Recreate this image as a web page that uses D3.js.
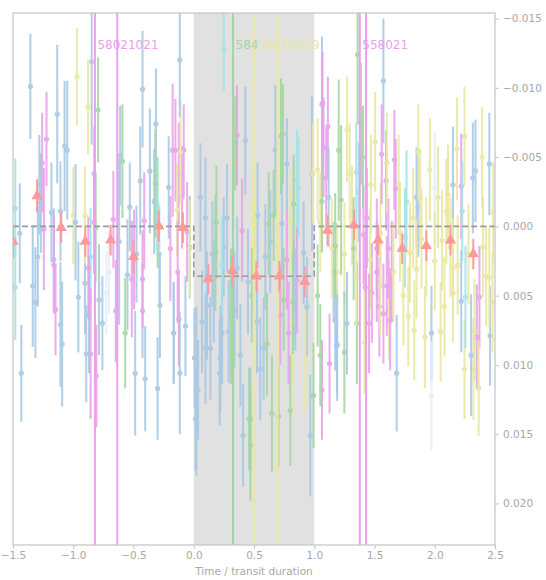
<!DOCTYPE html>
<html><head><meta charset="utf-8">
<script src="https://cdn.jsdelivr.net/npm/d3@7"></script>
<style>body{margin:0;background:#fff;}svg{display:block;font-family:"DejaVu Sans",sans-serif;}</style>
</head><body><div id="chart"></div>
<script>
// ---------------- DATA ----------------
const xTicks = [-1.5,-1.0,-0.5,0.0,0.5,1.0,1.5,2.0,2.5];
const xTickLabels = ["\u22121.5","\u22121.0","\u22120.5","0.0","0.5","1.0","1.5","2.0","2.5"];
const yTicks = [-0.015,-0.010,-0.005,0.000,0.005,0.010,0.015,0.020];
const yTickLabels = ["\u22120.015","\u22120.010","\u22120.005","0.000","0.005","0.010","0.015","0.020"];
const xLabel = "Time / transit duration";

// each point: [time, flux deviation, error]
const blue = [
[-1.356,-0.0101,0.0038],[-1.431,0.0106,0.0035],[-1.444,0.0005,0.0036],[-1.336,0.0043,0.0044],
[-1.314,0.0055,0.0040],[-1.294,0.0022,0.0036],[-1.281,-0.0030,0.0036],[-1.269,-0.0017,0.0036],
[-1.181,-0.0010,0.0036],[-1.161,0.0024,0.0037],[-1.133,-0.0081,0.0050],[-1.106,0.0071,0.0045],
[-1.092,0.0085,0.0045],[-1.106,-0.0011,0.0036],[-1.072,-0.0058,0.0047],[-1.050,-0.0055,0.0050],
[-0.981,-0.0003,0.0042],[-0.958,0.0051,0.0040],[-0.892,0.0092,0.0035],[-0.847,-0.0119,0.0060],
[-0.903,0.0041,0.0037],[-0.869,0.0064,0.0042],[-0.786,0.0053,0.0040],[-0.758,0.0070,0.0034],
[-0.619,0.0011,0.0060],[-0.611,-0.0051,0.0036],[-0.550,0.0035,0.0040],[-0.531,-0.0014,0.0032],
[-0.486,0.0106,0.0045],[-0.475,0.0020,0.0035],[-0.444,-0.0033,0.0039],[-0.425,-0.0099,0.0042],
[-0.425,0.0061,0.0034],[-0.403,0.0110,0.0038],[-0.364,-0.0040,0.0045],[-0.328,-0.0018,0.0038],
[-0.314,-0.0074,0.0040],[-0.300,0.0117,0.0037],[-0.281,0.0057,0.0038],[-0.208,-0.0028,0.0037],
[-0.167,0.0077,0.0037],[-0.116,-0.0120,0.0041],[-0.116,0.0106,0.0044],[-0.069,0.0072,0.0036],
[-0.166,0.0077,0.0036],[-0.033,0.0015,0.0037],
[0.055,-0.0021,0.0039],[0.097,-0.0006,0.0044],[0.006,0.0095,0.0036],[0.022,0.0119,0.0061],
[0.036,0.0118,0.0036],[0.014,0.0139,0.0037],[0.097,0.0088,0.0040],[0.110,0.0057,0.0039],
[0.221,0.0095,0.0038],[0.235,0.0077,0.0037],[0.215,0.0106,0.0038],[0.249,0.0015,0.0036],
[0.276,-0.0006,0.0039],[0.337,0.0060,0.0042],[0.290,0.0076,0.0037],[0.428,-0.0062,0.0039],
[0.530,-0.0008,0.0038],[0.409,0.0151,0.0037],[0.470,0.0139,0.0037],[0.552,0.0103,0.0037],
[0.594,0.0022,0.0038],[0.635,0.0011,0.0037],[0.677,-0.0055,0.0047],[0.732,-0.0002,0.0037],
[0.773,-0.0045,0.0033],[0.829,0.0046,0.0037],[0.843,0.0053,0.0037],[0.939,0.0058,0.0036],
[0.967,0.0151,0.0044],[0.981,-0.0038,0.0056],[0.912,0.0019,0.0037],[0.138,0.0088,0.0037],
[0.069,0.0069,0.0037],[0.166,0.0047,0.0037],[0.387,0.0093,0.0037],[0.525,0.0069,0.0037],
[0.580,0.0088,0.0037],[0.155,0.0020,0.0038],[0.360,0.0030,0.0037],[0.450,0.0040,0.0038],
[1.064,-0.0088,0.0049],[1.119,-0.0021,0.0036],[1.160,0.0033,0.0036],[1.174,0.0068,0.0036],
[1.188,0.0085,0.0036],[1.190,0.0086,0.0040],[1.272,0.0070,0.0037],
[1.574,-0.0105,0.0045],[1.684,0.0106,0.0042],[1.973,0.0077,0.0034],[1.863,-0.0014,0.0036],
[2.151,-0.0030,0.0042],[2.220,0.0054,0.0037],[2.302,0.0093,0.0044],[2.316,-0.0035,0.0040],
[2.338,-0.0040,0.0037],[2.453,-0.0045,0.0037],[2.459,0.0079,0.0036],[1.849,-0.0021,0.0036]
];
const faint = [
[-0.725,0.0048,0.0030],[-0.703,0.0033,0.0030],[1.973,0.0122,0.0039],[2.000,-0.0028,0.0040]
];
const cyan = [
[-1.481,-0.0013,0.0036],[-1.481,0.0044,0.0038],[-0.828,-0.0038,0.0034],[-0.306,-0.0016,0.0034],
[-0.286,0.0020,0.0035],[-0.856,0.0022,0.0035],[0.249,-0.0128,0.0030],[0.235,0.0028,0.0036],
[0.856,-0.0033,0.0037],[0.870,-0.0028,0.0036],[1.349,-0.0039,0.0036],[1.368,-0.0025,0.0036],
[1.766,-0.0018,0.0037],[1.753,0.0008,0.0036],[2.228,-0.0011,0.0036],[2.255,0.0051,0.0037]
];
const pink = [
[-1.244,0.0002,0.0044],[-1.258,-0.0046,0.0036],[-1.222,-0.0063,0.0034],[-1.147,0.0060,0.0033],
[-1.161,0.0028,0.0035],[-0.856,0.0092,0.0047],[-0.808,0.0108,0.0037],[-0.875,0.0030,0.0037],
[-0.828,-0.0003,0.0037],[-0.647,0.0061,0.0037],[-0.667,-0.0005,0.0035],[-0.514,0.0038,0.0042],
[-0.495,0.0024,0.0036],[-0.411,-0.0004,0.0035],[-0.425,0.0038,0.0035],[-0.175,-0.0055,0.0048],
[-0.194,0.0016,0.0038],[-0.133,0.0033,0.0037],[-0.124,-0.0038,0.0037],[-0.083,-0.0055,0.0033],
[-0.152,-0.0055,0.0037],[-0.097,-0.0021,0.0037],[-0.124,0.0067,0.0034],[-0.055,0.0004,0.0036],
[0.359,-0.0066,0.0036],[0.401,0.0003,0.0037],[0.718,0.0064,0.0036],[0.787,0.0077,0.0037],
[0.773,0.0024,0.0036],[0.856,0.0039,0.0038],
[1.069,-0.0089,0.0037],[1.113,-0.0072,0.0036],[1.077,-0.0057,0.0036],[1.099,-0.0035,0.0036],
[1.064,0.0118,0.0036],[1.127,0.0099,0.0036],[1.423,0.0044,0.0036],[1.409,0.0006,0.0036],
[1.437,-0.0006,0.0036],[1.478,0.0048,0.0036],[1.519,0.0016,0.0036],[1.519,0.0033,0.0036],
[1.574,0.0063,0.0036],[1.615,0.0016,0.0036],[1.643,0.0032,0.0036],[1.602,0.0043,0.0036],
[1.560,-0.0052,0.0036],[1.596,-0.0033,0.0036],[1.665,-0.0048,0.0036],[1.676,-0.0027,0.0036],
[2.220,-0.0029,0.0038],[2.349,0.0080,0.0038],[2.371,0.0051,0.0037],[1.455,0.0070,0.0036],
[1.540,0.0058,0.0036],[1.630,0.0068,0.0036]
];
const yellow = [
[-0.969,-0.0108,0.0035],[-1.000,-0.0008,0.0035],[-0.878,-0.0086,0.0034],[-0.903,-0.0008,0.0035],
[-0.110,-0.0054,0.0037],[-0.138,-0.0012,0.0034],[-0.033,0.0016,0.0035],
[0.483,0.0015,0.0036],[0.503,-0.0004,0.0039],[0.696,0.0015,0.0036],[0.801,-0.0003,0.0036],
[0.815,0.0068,0.0036],[0.815,0.0099,0.0037],[0.925,0.0097,0.0037],[0.989,-0.0038,0.0036],
[1.028,-0.0041,0.0037],[1.050,-0.0003,0.0036],[1.146,0.0016,0.0036],[1.190,0.0033,0.0036],
[1.272,-0.0070,0.0038],[1.294,-0.0038,0.0037],[1.313,-0.0008,0.0036],[1.418,0.0084,0.0037],
[1.464,0.0024,0.0036],[1.505,-0.0061,0.0036],[1.547,0.0043,0.0036],[1.602,-0.0046,0.0036],
[1.657,0.0033,0.0036],[1.712,0.0004,0.0036],[1.739,0.0050,0.0036],[1.794,0.0019,0.0036],
[1.821,-0.0006,0.0036],[1.849,0.0031,0.0036],[1.890,0.0009,0.0036],[1.863,-0.0054,0.0034],
[1.959,-0.0041,0.0037],[1.918,0.0080,0.0037],[2.027,-0.0021,0.0037],[2.000,0.0025,0.0036],
[2.049,0.0076,0.0036],[2.096,-0.0011,0.0038],[2.110,-0.0023,0.0036],[2.151,0.0030,0.0036],
[2.184,-0.0056,0.0037],[2.247,-0.0065,0.0036],[2.330,0.0075,0.0037],[2.321,0.0103,0.0037],
[2.365,0.0117,0.0034],[2.393,-0.0050,0.0036],[2.426,0.0036,0.0036],[2.453,0.0037,0.0036],
[2.247,0.0103,0.0036],[2.151,0.0048,0.0036],[1.550,0.0005,0.0036],[1.620,0.0060,0.0036],
[1.700,-0.0030,0.0036],[1.780,0.0065,0.0036],[1.830,0.0075,0.0036],[1.880,-0.0020,0.0036],
[1.930,0.0015,0.0036],[2.060,0.0010,0.0036],[2.080,0.0058,0.0036],[2.130,0.0015,0.0036],
[2.190,0.0028,0.0036],[2.280,0.0020,0.0036],[2.400,0.0015,0.0036],[2.480,0.0055,0.0036],
[2.485,-0.0010,0.0036],[1.250,0.0020,0.0037],[1.350,0.0035,0.0037],[1.470,-0.0030,0.0036]
];
const green = [
[-0.794,-0.0084,0.0038],[-0.814,0.0001,0.0039],[-0.592,-0.0047,0.0041],[-0.569,0.0077,0.0040],
[-0.319,-0.0031,0.0039],[-0.300,-0.0010,0.0040],
[0.345,-0.0060,0.0034],[0.188,-0.0003,0.0041],[0.180,0.0019,0.0042],[0.309,0.0065,0.0049],
[0.326,0.0092,0.0036],[0.470,0.0158,0.0040],[0.483,0.0050,0.0034],[0.460,0.0139,0.0037],
[0.608,0.0085,0.0037],[0.622,-0.0002,0.0037],[0.649,0.0135,0.0042],[0.663,-0.0008,0.0033],
[0.724,-0.0065,0.0042],[0.740,-0.0067,0.0036],[0.704,0.0137,0.0036],[0.746,0.0053,0.0037],
[0.801,0.0133,0.0040],[0.823,0.0055,0.0037],[0.829,-0.0016,0.0036],[0.994,0.0122,0.0038],
[1.064,-0.0018,0.0037],[1.174,0.0014,0.0038],[1.028,0.0050,0.0037],[1.050,0.0093,0.0037],
[1.203,-0.0055,0.0051],[1.223,-0.0019,0.0054],[1.250,0.0091,0.0044],[1.354,0.0070,0.0044],
[1.327,0.0016,0.0037],[1.387,-0.0074,0.0044],[1.404,-0.0050,0.0037],[1.360,-0.0124,0.0050]
];
// binned points
const binX = [-1.50,-1.30,-1.10,-0.90,-0.69,-0.50,-0.29,-0.09,0.12,0.32,0.52,0.71,0.92,1.11,1.33,1.53,1.73,1.93,2.13,2.32];
const binY = [0.0011,-0.0022,0.0001,0.0011,0.0010,0.0022,0.0000,0.0001,0.0038,0.0032,0.0036,0.0036,0.0040,0.0003,-0.0001,0.0010,0.0016,0.0014,0.0010,0.0020];
const binErr = [0.0012,0.0012,0.0011,0.0011,0.0011,0.0012,0.0011,0.0011,0.0011,0.0011,0.0011,0.0011,0.0011,0.0011,0.0011,0.0011,0.0011,0.0011,0.0011,0.0011];
// box transit model
const modelX = [-1.5,0.0,0.0,1.0,1.0,2.5];
const modelY = [0.0,0.0,0.0036,0.0036,0.0,0.0];
const transitSpan = [0.0,1.0];
// marked epochs
const markX = [-0.82,-0.635,0.326,0.497,0.696,1.378,1.43];
const markColor = ["pink","pink","green","yellow","yellow","pink","pink"];
// epoch labels: each label is a run of coloured pieces starting at an epoch
const labelX = [-0.82,0.326,1.378];
const labelParts = [[["58021021","pink"]],[["584","green"],["58039039","yellow"]],[["558021","pink"]]];

// ---------------- DRAW ----------------
const W=546,H=580, L=13, R=495, T=13, B=545;
const col = {blue:"#a9c9e5",faint:"#e6eef7",cyan:"#a3e3e8",pink:"#e9a2ea",yellow:"#e8e8a2",green:"#a5d6a2"};
const x = d3.scaleLinear().domain([-1.5,2.5]).range([L,R]);
const y = d3.scaleLinear().domain([-0.0154,0.0230]).range([T,B]);

const svg = d3.select("#chart").append("svg").attr("width",W).attr("height",H);
svg.append("defs").append("clipPath").attr("id","clip")
  .append("rect").attr("x",L).attr("y",T).attr("width",R-L).attr("height",B-T);

const plot = svg.append("g").attr("clip-path","url(#clip)");
plot.append("rect").attr("x",x(transitSpan[0])).attr("y",T)
  .attr("width",x(transitSpan[1])-x(transitSpan[0])).attr("height",B-T).attr("fill","#e1e1e1");

const series = [["blue",blue],["faint",faint],["cyan",cyan],["pink",pink],["yellow",yellow],["green",green]];
const all = [];
series.forEach(([k,arr])=>arr.forEach(p=>all.push({k,x:p[0],y:p[1],e:p[2]})));
all.sort((a,b)=>((a.x*1000)%7)-((b.x*1000)%7));
const pts = plot.append("g").selectAll("g").data(all).join("g").attr("opacity",0.9);
pts.append("line").attr("x1",d=>x(d.x)).attr("x2",d=>x(d.x))
  .attr("y1",d=>y(d.y-d.e)).attr("y2",d=>y(d.y+d.e))
  .attr("stroke",d=>col[d.k]).attr("stroke-width",2);
pts.append("circle").attr("cx",d=>x(d.x)).attr("cy",d=>y(d.y)).attr("r",2.6).attr("fill",d=>col[d.k]);

plot.append("g").selectAll("line").data(markX).join("line")
  .attr("x1",d=>x(d)).attr("x2",d=>x(d)).attr("y1",T).attr("y2",B)
  .attr("stroke",(d,i)=>col[markColor[i]]).attr("stroke-width",2);

plot.append("path").datum(modelX.map((v,i)=>[v,modelY[i]]))
  .attr("d",d3.line().x(d=>x(d[0])).y(d=>y(d[1])))
  .attr("fill","none").attr("stroke","#9a9a9a").attr("stroke-width",1.6).attr("stroke-dasharray","6,3");

const bins = binX.map((v,i)=>({x:v,y:binY[i],e:binErr[i]}));
const bg = plot.append("g").selectAll("g").data(bins).join("g");
bg.append("line").attr("x1",d=>x(d.x)).attr("x2",d=>x(d.x))
  .attr("y1",d=>y(d.y-d.e)).attr("y2",d=>y(d.y+d.e)).attr("stroke","#ff9a9a").attr("stroke-width",2);
bg.append("path").attr("d",d3.symbol(d3.symbolTriangle,55))
  .attr("transform",d=>`translate(${x(d.x)},${y(d.y)})`).attr("fill","#ff9a9a");

const lab = svg.append("g").selectAll("text").data(labelX).join("text")
  .attr("x",d=>x(d)+2.5).attr("y",y(-0.0128)).attr("font-size",12);
lab.each(function(d,i){
  d3.select(this).selectAll("tspan").data(labelParts[i]).join("tspan")
    .attr("fill",p=>col[p[1]]).text(p=>p[0]);
});

// frame
svg.append("rect").attr("x",L).attr("y",T).attr("width",R-L).attr("height",B-T)
  .attr("fill","none").attr("stroke","#c4c4c4").attr("stroke-width",1.2);

// axes
const gx = svg.append("g").attr("transform",`translate(0,${B})`)
  .call(d3.axisBottom(x).tickValues(xTicks).tickFormat((d,i)=>xTickLabels[i]).tickSize(4).tickPadding(3));
const gy = svg.append("g").attr("transform",`translate(${R},0)`)
  .call(d3.axisRight(y).tickValues(yTicks).tickFormat((d,i)=>yTickLabels[i]).tickSize(4).tickPadding(4));
[gx,gy].forEach(g=>{
  g.select(".domain").remove();
  g.selectAll("line").attr("stroke","#c4c4c4");
  g.selectAll("text").attr("fill","#a8a8a8").attr("font-size",10.5).attr("font-family","DejaVu Sans");
});
svg.append("text").attr("x",(L+R)/2).attr("y",575).attr("text-anchor","middle")
  .attr("font-size",10.5).attr("fill","#a8a8a8").text(xLabel);
</script></body></html>
